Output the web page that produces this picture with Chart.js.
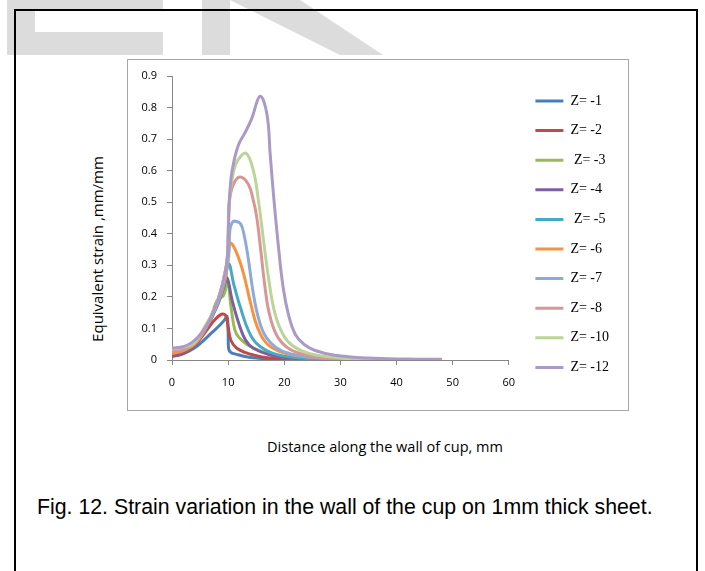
<!DOCTYPE html>
<html>
<head>
<meta charset="utf-8">
<script src="https://cdn.jsdelivr.net/npm/chart.js@4/dist/chart.umd.min.js"></script>
<style>
  body { margin: 0; background: #fff; width: 705px; height: 571px; overflow: hidden; position: relative; }
  .wm { position: absolute; background: #dcdcdc; }
  #frame { position: absolute; left: 14px; top: 9px; width: 680px; height: 600px; border: 2px solid #000; border-bottom: none; }
  #box { position: absolute; left: 127px; top: 59px; width: 500px; height: 350px; border: 1px solid #a6a6a6; }
  #wrap { position: absolute; left: 60px; top: 50px; width: 580px; height: 360px; }
  #ytitle { position: absolute; left: 97px; top: 249px; transform: translate(-50%, -50%) rotate(-90deg);
            font: 15px "Open Sans", sans-serif; white-space: nowrap; color: #000; }
  #xtitle { position: absolute; left: 385px; top: 446px; transform: translate(-50%, -50%);
            font: 14.5px "Open Sans", sans-serif; white-space: nowrap; color: #000; }
  #caption { position: absolute; left: 37px; top: 495px; font: 21.3px "Liberation Sans", Arial, sans-serif; white-space: nowrap; color: #000; }
</style>
</head>
<body>
<div class="wm" style="left:7px;top:0;width:28px;height:55px"></div>
<div class="wm" style="left:35px;top:32px;width:128px;height:23px"></div>
<div class="wm" style="left:35px;top:0;width:128px;height:9px"></div>
<div class="wm" style="left:202px;top:0;width:28px;height:55px"></div>
<div class="wm" style="left:230px;top:0;width:155px;height:55px;clip-path:polygon(0 0, 70px 0, 153px 55px, 110px 55px)"></div>
<div id="frame"></div>
<div id="box"></div>
<div id="ytitle">Equivalent strain ,mm/mm</div>
<div id="xtitle">Distance along the wall of cup, mm</div>
<div id="caption">Fig. 12. Strain variation in the wall of the cup on 1mm thick sheet.</div>
<div id="wrap"><canvas id="strainChart"></canvas></div>
<script>
const seriesLabels = ['Z= -1', 'Z= -2', ' Z= -3', 'Z= -4', ' Z= -5', 'Z= -6', 'Z= -7', 'Z= -8', 'Z= -10', 'Z= -12'];
const seriesColors = ['#4a7ebb', '#be4b48', '#98b954', '#7d60a0', '#46aac5', '#f69240', '#8eaad8', '#d99694', '#bcd497', '#ab9ac8'];

// distance along wall (mm) and equivalent strain for each depth
const xZ1 = [0, 2, 4, 5.5, 7, 8.5, 9.4, 9.8, 10, 10.1, 10.5, 11.5, 13, 15, 18, 22, 30, 40, 48];
const yZ1 = [0.012, 0.02, 0.038, 0.06, 0.085, 0.11, 0.128, 0.138, 0.09, 0.035, 0.024, 0.018, 0.011, 0.006, 0.003, 0.001, 0, 0, 0];
const xZ2 = [0, 2, 4, 6, 7.5, 8.8, 9.6, 10, 10.5, 11.5, 13, 14.5, 17, 20, 25, 35, 48];
const yZ2 = [0.012, 0.02, 0.045, 0.09, 0.125, 0.145, 0.14, 0.105, 0.062, 0.038, 0.024, 0.016, 0.007, 0.003, 0.001, 0, 0];
const xZ3 = [0, 2, 4, 6, 7.2, 8.1, 9.2, 9.9, 10.5, 11.2, 12, 13.3, 15.5, 18, 22, 30, 48];
const yZ3 = [0.02, 0.028, 0.05, 0.1, 0.15, 0.19, 0.205, 0.25, 0.17, 0.095, 0.07, 0.05, 0.03, 0.015, 0.005, 0.001, 0];
const xZ4 = [0, 2, 4, 6, 8, 9.2, 9.8, 10.7, 11.9, 13.1, 14.5, 17.5, 22, 30, 48];
const yZ4 = [0.015, 0.025, 0.05, 0.1, 0.17, 0.23, 0.26, 0.19, 0.116, 0.063, 0.037, 0.016, 0.005, 0.001, 0];
const xZ5 = [0, 2, 4, 6, 8, 9.3, 10.1, 11, 12.3, 13.7, 15.2, 18, 23, 30, 48];
const yZ5 = [0.025, 0.03, 0.05, 0.1, 0.17, 0.24, 0.305, 0.24, 0.16, 0.09, 0.05, 0.021, 0.006, 0.002, 0];
const xZ6 = [0, 2, 4, 6, 8, 9.5, 10, 10.4, 11.5, 12.8, 14, 15.3, 17, 20, 25, 32, 48];
const yZ6 = [0.02, 0.03, 0.05, 0.1, 0.175, 0.26, 0.32, 0.37, 0.34, 0.27, 0.18, 0.1, 0.05, 0.022, 0.008, 0.002, 0];
const xZ7 = [0, 2, 4, 6, 8, 9.6, 10.1, 10.3, 10.7, 11.3, 12.2, 12.8, 13.6, 14.4, 15.3, 16.5, 18.5, 21, 26, 35, 48];
const yZ7 = [0.03, 0.035, 0.055, 0.105, 0.18, 0.28, 0.33, 0.41, 0.435, 0.44, 0.432, 0.4, 0.32, 0.22, 0.14, 0.08, 0.04, 0.02, 0.007, 0.002, 0];
const xZ8 = [0, 2, 4, 6, 8, 9.7, 10, 10.2, 10.9, 12.1, 13.6, 14.5, 15.1, 15.8, 16.5, 17.3, 18.6, 20.5, 23, 28, 36, 48];
const yZ8 = [0.03, 0.036, 0.055, 0.108, 0.18, 0.3, 0.4, 0.5, 0.555, 0.58, 0.557, 0.505, 0.452, 0.35, 0.24, 0.15, 0.08, 0.04, 0.02, 0.006, 0.001, 0];
const xZ10 = [0, 2, 4, 6, 8, 9.7, 10, 10.3, 11, 11.8, 13.2, 14.5, 15.4, 16.3, 17.2, 18.3, 19.8, 21.5, 24.4, 30, 38, 48];
const yZ10 = [0.035, 0.04, 0.056, 0.11, 0.18, 0.3, 0.4, 0.52, 0.6, 0.635, 0.655, 0.6, 0.505, 0.38, 0.26, 0.15, 0.08, 0.045, 0.021, 0.006, 0.001, 0];
const xZ12 = [0, 2, 3.5, 5, 6.5, 8, 9, 9.7, 10, 10.1, 10.3, 10.7, 11.8, 13, 14.2, 15.7, 16.9, 17.5, 18.1, 18.9, 19.8, 20.8, 22, 23.5, 25.5, 29, 35, 42, 48];
const yZ12 = [0.038, 0.042, 0.055, 0.08, 0.12, 0.18, 0.24, 0.3, 0.36, 0.45, 0.53, 0.6, 0.68, 0.72, 0.765, 0.836, 0.78, 0.65, 0.52, 0.37, 0.23, 0.14, 0.08, 0.05, 0.03, 0.015, 0.006, 0.003, 0.002];

const xSeries = [xZ1, xZ2, xZ3, xZ4, xZ5, xZ6, xZ7, xZ8, xZ10, xZ12];
const ySeries = [yZ1, yZ2, yZ3, yZ4, yZ5, yZ6, yZ7, yZ8, yZ10, yZ12];

const xTicks = [0, 10, 20, 30, 40, 50, 60];
const yTicks = [0, 0.1, 0.2, 0.3, 0.4, 0.5, 0.6, 0.7, 0.8, 0.9];

const datasets = seriesLabels.map((label, i) => ({
    label: label,
    data: xSeries[i].map((x, j) => ({ x: x, y: ySeries[i][j] })),
    borderColor: seriesColors[i],
    backgroundColor: seriesColors[i],
    borderWidth: 3,
    pointRadius: 0,
    showLine: true,
    tension: 0.4,
    order: seriesLabels.length - i   // last series on top, like the original
}));

const tickFont = { family: 'Open Sans', size: 11 };

const config = {
    type: 'scatter',
    data: { datasets: datasets },
    options: {
        responsive: false,
        animation: false,
        layout: { padding: { left: 72, top: 26, right: 21, bottom: 20 } },
        scales: {
            x: {
                type: 'linear',
                min: 0,
                max: 60,
                afterBuildTicks: (s) => { s.ticks = xTicks.map(v => ({ value: v })); },
                afterFit: (s) => { s.height = 30; },
                ticks: { font: tickFont, color: '#000', padding: 11 },
                grid: { drawOnChartArea: false, drawTicks: true, tickLength: 5, color: '#868686' },
                border: { color: '#868686' }
            },
            y: {
                type: 'linear',
                min: 0,
                max: 0.9,
                afterBuildTicks: (s) => { s.ticks = yTicks.map(v => ({ value: v })); },
                afterFit: (s) => { s.width = 40; },
                ticks: { font: tickFont, color: '#000', padding: 10 },
                grid: { drawOnChartArea: false, drawTicks: true, tickLength: 5, color: '#868686' },
                border: { color: '#868686' }
            },
            gap: {
                type: 'linear',
                position: 'right',
                display: true,
                afterFit: (s) => { s.width = 11; },
                ticks: { display: false },
                grid: { display: false },
                border: { display: false }
            }
        },
        plugins: {
            tooltip: { enabled: false },
            legend: {
                position: 'right',
                align: 'end',
                maxWidth: 140,
                labels: {
                    usePointStyle: true,
                    pointStyle: 'line',
                    pointStyleWidth: 28,
                    padding: 15.6,
                    color: '#000',
                    font: { family: 'Liberation Serif', size: 14 },
                    sort: (a, b) => a.datasetIndex - b.datasetIndex
                }
            }
        }
    }
};

const canvas = document.getElementById('strainChart');
canvas.width = 580;
canvas.height = 360;
const strainChart = new Chart(canvas.getContext('2d'), config);
</script>
</body>
</html>
